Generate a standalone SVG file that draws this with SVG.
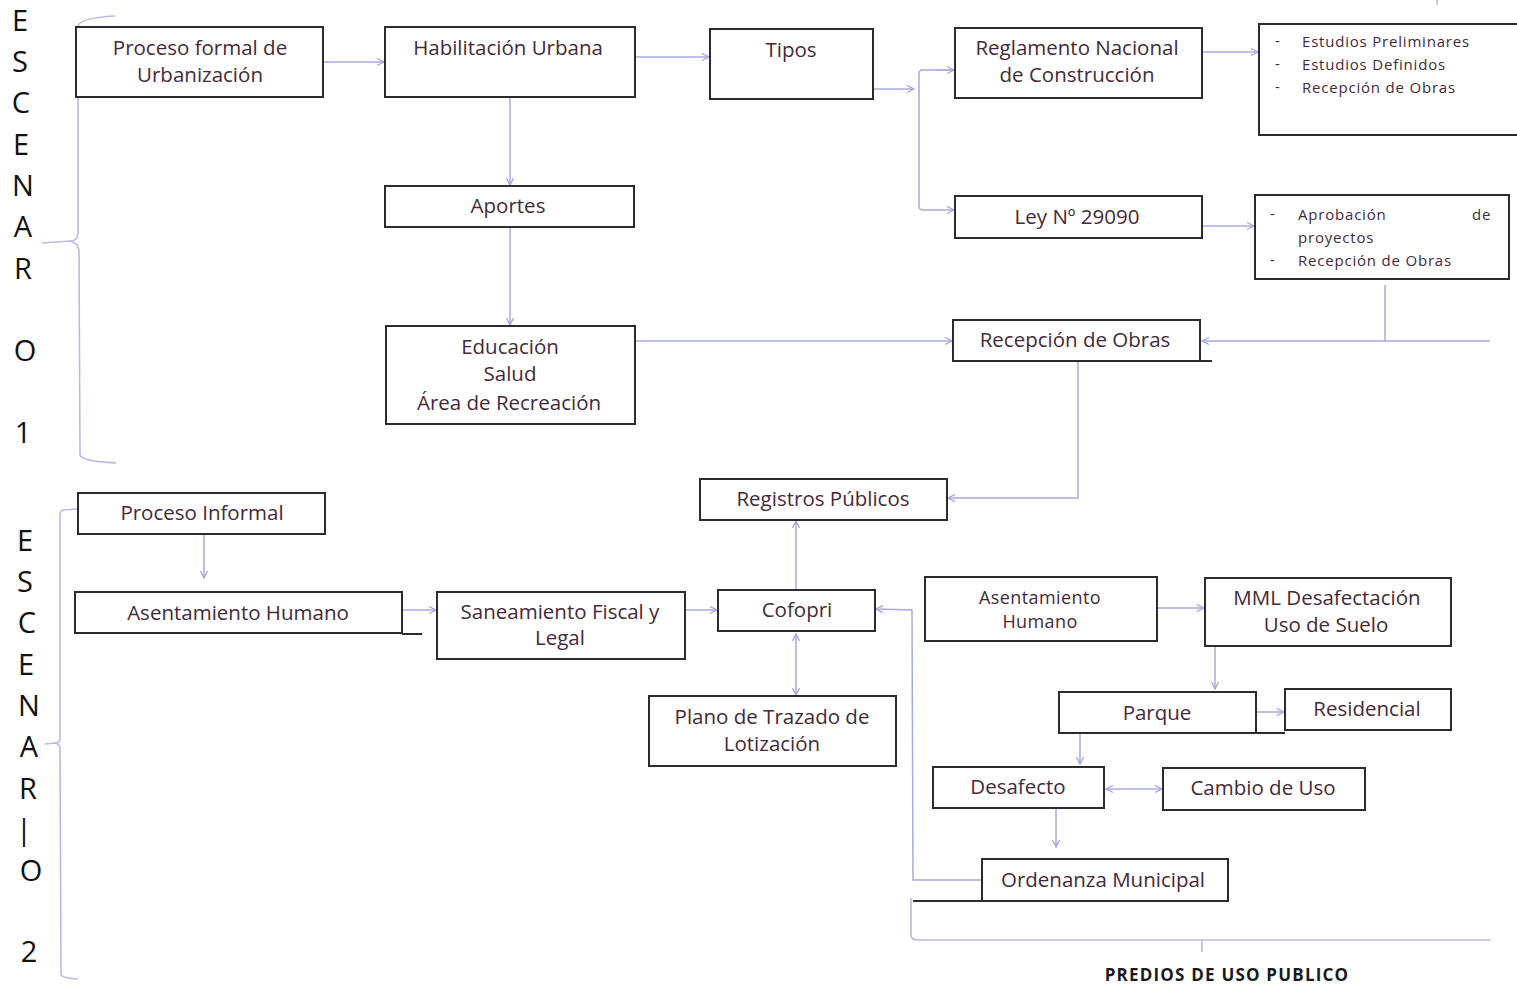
<svg xmlns="http://www.w3.org/2000/svg" width="1517" height="987" viewBox="0 0 1517 987">
<defs>
<marker id="ah" markerWidth="10" markerHeight="10" refX="8" refY="4" orient="auto" markerUnits="userSpaceOnUse">
<path d="M1,0.5 L8,4 L1,7.5" fill="none" stroke="#a3a5dd" stroke-width="1.3"/>
</marker>
<marker id="ahs" markerWidth="10" markerHeight="10" refX="1" refY="4" orient="auto" markerUnits="userSpaceOnUse">
<path d="M8,0.5 L1,4 L8,7.5" fill="none" stroke="#a3a5dd" stroke-width="1.3"/>
</marker>
<style>
.b{fill:#fff;stroke:#2e2b2d;stroke-width:2}
.t{font-family:"Open Sans","Liberation Sans",sans-serif;font-size:20.5px;fill:#432a3b;text-anchor:middle}
.s{font-family:"Open Sans","Liberation Sans",sans-serif;font-size:15px;letter-spacing:0.8px;fill:#432a3b}
.l{font-family:"Open Sans","Liberation Sans",sans-serif;font-size:29px;fill:#111;text-anchor:middle}
.c{fill:none;stroke:#a9abe0;stroke-width:1.5}
.br{fill:none;stroke:#b9bbe4;stroke-width:1.6}
.k{fill:none;stroke:#2e2b2d;stroke-width:2}
</style>
</defs>
<rect width="1517" height="987" fill="#fff"/>

<g id="scenario-labels">
<text class="l" x="20" y="31">E</text>
<text class="l" x="20" y="72">S</text>
<text class="l" x="21" y="113">C</text>
<text class="l" x="21" y="155">E</text>
<text class="l" x="23" y="196">N</text>
<text class="l" x="23" y="237">A</text>
<text class="l" x="23" y="279">R</text>
<text class="l" x="25" y="361">O</text>
<text class="l" x="23" y="443">1</text>
<text class="l" x="25" y="551">E</text>
<text class="l" x="25" y="592">S</text>
<text class="l" x="27" y="633">C</text>
<text class="l" x="26" y="675">E</text>
<text class="l" x="29" y="716">N</text>
<text class="l" x="29" y="757">A</text>
<text class="l" x="28" y="799">R</text>
<text class="l" x="24" y="840">|</text>
<text class="l" x="31" y="881">O</text>
<text class="l" x="29" y="962">2</text>
</g>

<g id="brackets">
<path class="br" d="M115,16 Q80,18 78,26 L78,234 Q77,241 70,241 L42,243 M70,241 Q78,243 79,250 L80,455 Q81,461 116,463"/>
<path class="br" d="M78,509 L63,510 Q60,511 60,516 L60,738 Q60,743 55,743 L45,744 M55,743 Q60,744 60,749 L61,974 Q61,978 78,979"/>
<path class="br" d="M911,898 L911,936 Q912,940 918,940 L1490,940 M1202,940 L1202,952"/>
<path class="br" d="M1437,0 L1437,5"/>
</g>

<g id="connectors">
<path class="c" d="M323,62 L384,62" marker-end="url(#ah)"/>
<path class="c" d="M635,57 L709,57" marker-end="url(#ah)"/>
<path class="c" d="M874,89 L914,89" marker-end="url(#ah)"/>
<path class="c" d="M954,70 L922,70 Q919,70 919,74 L919,206 Q919,210 923,210 L954,210" marker-end="url(#ah)"/>
<path class="c" d="M935,70 L954,70" marker-end="url(#ah)"/>
<path class="c" d="M1202,52 L1258,52" marker-end="url(#ah)"/>
<path class="c" d="M1202,226 L1254,226" marker-end="url(#ah)"/>
<path class="c" d="M510,97 L510,185" marker-end="url(#ah)"/>
<path class="c" d="M510,227 L510,325" marker-end="url(#ah)"/>
<path class="c" d="M635,341 L952,341" marker-end="url(#ah)"/>
<path class="c" d="M1385,285 L1385,341 M1490,341 L1202,341" marker-end="url(#ah)"/>
<path class="c" d="M1078,362 L1078,498 L948,498" marker-end="url(#ah)"/>
<path class="c" d="M796,589 L796,521" marker-end="url(#ah)"/>
<path class="c" d="M204,535 L204,578" marker-end="url(#ah)"/>
<path class="c" d="M402,610 L436,610" marker-end="url(#ah)"/>
<path class="c" d="M686,610 L717,610" marker-end="url(#ah)"/>
<path class="c" d="M796,634 L796,695" marker-start="url(#ahs)" marker-end="url(#ah)"/>
<path class="c" d="M981,880 L913,880 L912,610 L876,609" marker-end="url(#ah)"/>
<path class="c" d="M1157,608 L1204,608" marker-end="url(#ah)"/>
<path class="c" d="M1215,646 L1215,689" marker-end="url(#ah)"/>
<path class="c" d="M1256,712 L1284,712" marker-end="url(#ah)"/>
<path class="c" d="M1080,734 L1080,764" marker-end="url(#ah)"/>
<path class="c" d="M1106,789 L1162,789" marker-start="url(#ahs)" marker-end="url(#ah)"/>
<path class="c" d="M1056,809 L1056,847" marker-end="url(#ah)"/>
</g>

<g id="n-proceso-formal"><rect class="b" x="76" y="27" width="247" height="70"/><text class="t" x="200" y="55">Proceso formal de</text><text class="t" x="200" y="82">Urbanización</text></g>
<g id="n-habilitacion"><rect class="b" x="385" y="27" width="250" height="70"/><text class="t" x="508" y="55">Habilitación Urbana</text></g>
<g id="n-tipos"><rect class="b" x="710" y="29" width="163" height="70"/><text class="t" x="791" y="57">Tipos</text></g>
<g id="n-reglamento"><rect class="b" x="955" y="28" width="247" height="70"/><text class="t" x="1077" y="55">Reglamento Nacional</text><text class="t" x="1077" y="82">de Construcción</text></g>
<g id="n-estudios"><rect class="b" x="1259" y="24" width="262" height="111"/>
<text class="s" x="1275" y="46">-</text><text class="s" x="1302" y="47">Estudios Preliminares</text>
<text class="s" x="1275" y="69">-</text><text class="s" x="1302" y="70">Estudios Definidos</text>
<text class="s" x="1275" y="92">-</text><text class="s" x="1302" y="93">Recepción de  Obras</text></g>
<g id="n-ley"><rect class="b" x="955" y="196" width="247" height="42"/><text class="t" x="1077" y="224">Ley Nº 29090</text></g>
<g id="n-aprobacion"><rect class="b" x="1255" y="195" width="254" height="84"/>
<text class="s" x="1270" y="219">-</text><text class="s" x="1298" y="220">Aprobación</text><text class="s" x="1472" y="220">de</text>
<text class="s" x="1298" y="243">proyectos</text>
<text class="s" x="1270" y="265">-</text><text class="s" x="1298" y="266">Recepción de Obras</text></g>
<g id="n-aportes"><rect class="b" x="385" y="186" width="249" height="41"/><text class="t" x="508" y="213">Aportes</text></g>
<g id="n-educacion"><rect class="b" x="386" y="326" width="249" height="98"/><text class="t" x="510" y="354">Educación</text><text class="t" x="510" y="381">Salud</text><text class="t" x="509" y="410">Área de Recreación</text></g>
<g id="n-recepcion"><rect class="b" x="953" y="320" width="247" height="41"/><path class="k" d="M1200,361 L1212,361"/><text class="t" x="1075" y="347">Recepción de Obras</text></g>
<g id="n-registros"><rect class="b" x="700" y="479" width="247" height="41"/><text class="t" x="823" y="506">Registros Públicos</text></g>
<g id="n-proceso-informal"><rect class="b" x="78" y="493" width="247" height="41"/><text class="t" x="202" y="520">Proceso Informal</text></g>
<g id="n-asentamiento-izq"><rect class="b" x="75" y="592" width="327" height="41"/><path class="k" d="M402,634 L422,634"/><text class="t" x="238" y="620">Asentamiento Humano</text></g>
<g id="n-saneamiento"><rect class="b" x="437" y="592" width="248" height="67"/><text class="t" x="560" y="619">Saneamiento Fiscal y</text><text class="t" x="560" y="645">Legal</text></g>
<g id="n-cofopri"><rect class="b" x="718" y="590" width="157" height="41"/><text class="t" x="797" y="617">Cofopri</text></g>
<g id="n-plano"><rect class="b" x="649" y="696" width="247" height="70"/><text class="t" x="772" y="724">Plano de Trazado de</text><text class="t" x="772" y="751">Lotización</text></g>
<g id="n-asentamiento-der"><rect class="b" x="925" y="577" width="232" height="64"/><text class="t" x="1040" y="604" style="font-size:18px;letter-spacing:0.4px">Asentamiento</text><text class="t" x="1040" y="628" style="font-size:18px;letter-spacing:0.4px">Humano</text></g>
<g id="n-mml"><rect class="b" x="1205" y="578" width="246" height="68"/><text class="t" x="1327" y="605">MML Desafectación</text><text class="t" x="1326" y="632">Uso de Suelo</text></g>
<g id="n-parque"><rect class="b" x="1059" y="692" width="197" height="41"/><path class="k" d="M1256,733 L1285,733"/><text class="t" x="1157" y="720">Parque</text></g>
<g id="n-residencial"><rect class="b" x="1285" y="689" width="166" height="41"/><text class="t" x="1367" y="716">Residencial</text></g>
<g id="n-desafecto"><rect class="b" x="933" y="767" width="171" height="41"/><text class="t" x="1018" y="794">Desafecto</text></g>
<g id="n-cambio"><rect class="b" x="1163" y="768" width="202" height="42"/><text class="t" x="1263" y="795">Cambio de Uso</text></g>
<g id="n-ordenanza"><rect class="b" x="982" y="859" width="246" height="42"/><path class="k" d="M913,901 L982,901"/><text class="t" x="1103" y="887">Ordenanza Municipal</text></g>

<text x="1227" y="981" style="font-family:'Open Sans','Liberation Sans',sans-serif;font-size:17px;letter-spacing:1.2px;font-weight:bold;fill:#1a1a1a;text-anchor:middle">PREDIOS DE USO PUBLICO</text>
</svg>
